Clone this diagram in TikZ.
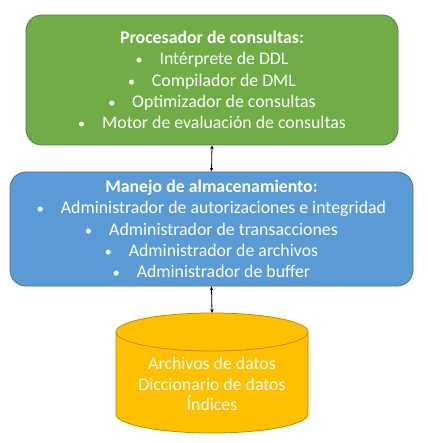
\documentclass[tikz,border=0pt]{standalone}
\usepackage{fontspec}
\setmainfont{Carlito}
\usetikzlibrary{arrows.meta}
\definecolor{gfill}{HTML}{70AD47}
\definecolor{gline}{HTML}{507E32}
\definecolor{bfill}{HTML}{5B9BD5}
\definecolor{bline}{HTML}{41719C}
\definecolor{yfill}{HTML}{FFC000}
\definecolor{yline}{HTML}{BC8C00}
\begin{document}
\begin{tikzpicture}[x=1pt,y=1pt,
  panel/.style={rounded corners=16pt, line width=0.8pt, text=white, align=center,
    font=\fontsize{17.8}{21.2}\selectfont, inner sep=0pt},
  link/.style={{Stealth[length=4pt,width=3.5pt]}-{Stealth[length=4pt,width=3.5pt]}, line width=0.8pt, black},
  dbtext/.style={text=white, align=center, font=\fontsize{17.8}{20.7}\selectfont, inner sep=0pt}]
\useasboundingbox (0,0) rectangle (427,-443);
\newcommand{\bl}{{\fontsize{14}{14}\selectfont\textbullet}\hspace{17pt}}
\node[panel, fill=gfill, draw=gline, minimum width=372pt, minimum height=130pt] (proc) at (212,-80)
  {\textbf{Procesador de consultas:}\\
   \bl Intérprete de DDL\\
   \bl Compilador de DML\\
   \bl Optimizador de consultas\\
   \bl Motor de evaluación de consultas};
\node[panel, fill=bfill, draw=bline, minimum width=403pt, minimum height=114pt] (alm) at (211.5,-229)
  {\textbf{Manejo de almacenamiento:}\\
   \bl Administrador de autorizaciones e integridad\\
   \bl Administrador de transacciones\\
   \bl Administrador de archivos\\
   \bl Administrador de buffer};
% cylinder
\fill[yfill] (116,-332) -- (116,-414) arc[start angle=180,end angle=360,x radius=96,y radius=19]
  -- (308,-332) arc[start angle=0,end angle=180,x radius=96,y radius=19];
\draw[yline, line width=0.8pt] (116,-332) -- (116,-414) arc[start angle=180,end angle=360,x radius=96,y radius=19]
  -- (308,-332);
\draw[yline, line width=0.8pt] (212,-332) ellipse[x radius=96,y radius=19];
\coordinate (dbtop) at (212,-313);
\node[dbtext] (db) at (212,-384) {Archivos de datos\\Diccionario de datos\\Índices};
\draw[link] (proc.south) -- (alm.north);
\draw[link] (alm.south) -- (dbtop);
\end{tikzpicture}
\end{document}
